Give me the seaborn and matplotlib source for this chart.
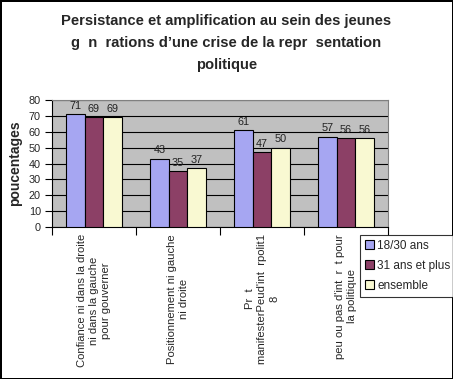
import matplotlib
matplotlib.use("Agg")
import matplotlib.pyplot as plt
import seaborn as sns
import pandas as pd

categories = [
    "Confiance ni dans la droite\nni dans la gauche\npour gouverner",
    "Positionnement ni gauche\nni droite",
    "Pr  t\nmanifesterPeud'int  rpolit1\n8",
    "peu ou pas d'int  r  t pour\nla politique",
]
series = ["18/30 ans", "31 ans et plus", "ensemble"]
v_18_30 = [71, 43, 61, 57]
v_31_plus = [69, 35, 47, 56]
v_ensemble = [69, 37, 50, 56]
colors = ["#9999FF", "#993366", "#FFFFCC"]

rows = []
for s, vals in zip(series, [v_18_30, v_31_plus, v_ensemble]):
    for c, v in zip(categories, vals):
        rows.append({"cat": c, "serie": s, "val": v})
df = pd.DataFrame(rows)

sns.set_style("white")
plt.rcParams["font.family"] = ["Liberation Sans", "DejaVu Sans"]

fig = plt.figure(figsize=(4.53, 3.79), dpi=100)
fig.patch.set_facecolor("white")
fig.patch.set_edgecolor("black")
fig.patch.set_linewidth(2)

ax = fig.add_axes([52 / 453, 1 - 227 / 379, 336 / 453, 127 / 379])
ax.set_facecolor("#C0C0C0")
sns.barplot(data=df, x="cat", y="val", hue="serie", order=categories,
            hue_order=series, palette=colors, width=2 / 3, edgecolor="black",
            linewidth=0.8, ax=ax, legend=True, zorder=3)

for cont in ax.containers:
    ax.bar_label(cont, fmt="%d", padding=2.5, fontsize=7.8, color="#222222")

ax.set_ylim(0, 80)
ax.set_xlim(-0.5, 3.5)
ax.set_yticks(range(0, 81, 10))
ax.yaxis.grid(True, color="black", linewidth=0.8, zorder=0)
ax.set_axisbelow(True)
ax.tick_params(axis="y", which="major", length=5, width=0.8, color="black",
               labelsize=7.8, left=True, direction="out", pad=3)
ax.set_xticks(range(4))
ax.set_xticklabels(categories, rotation=90, fontsize=8.1, ha="center",
                   va="top", multialignment="center", linespacing=1.3)
ax.tick_params(axis="x", which="major", length=0, pad=5)
ax.set_xticks([-0.5, 0.5, 1.5, 2.5, 3.5], minor=True)
ax.tick_params(axis="x", which="minor", length=6, width=0.8, color="black",
               bottom=True, direction="out")

ax.set_xlabel("")
ax.set_ylabel("poucentages", fontsize=10, fontweight="bold", labelpad=5)

for side in ["left", "bottom"]:
    ax.spines[side].set_color("black")
    ax.spines[side].set_linewidth(0.8)
for side in ["top", "right"]:
    ax.spines[side].set_color("#808080")
    ax.spines[side].set_linewidth(0.8)

leg = ax.legend(loc="upper left", bbox_to_anchor=(360 / 453, 1 - 235 / 379),
                bbox_transform=fig.transFigure, frameon=True, fancybox=False,
                edgecolor="black", fontsize=8.5, handlelength=0.75,
                handleheight=0.75, handletextpad=0.3, borderpad=0.4,
                labelspacing=0.68, borderaxespad=0)
leg.get_frame().set_linewidth(0.8)

fig.text(0.5, 1 - 14 / 379, "Persistance et amplification au sein des jeunes\n"
         "g  n  rations d\u2019une crise de la repr  sentation\npolitique",
         ha="center", va="top", fontsize=10.6, fontweight="bold",
         linespacing=1.72)

fig.savefig("out.png", dpi=100)
